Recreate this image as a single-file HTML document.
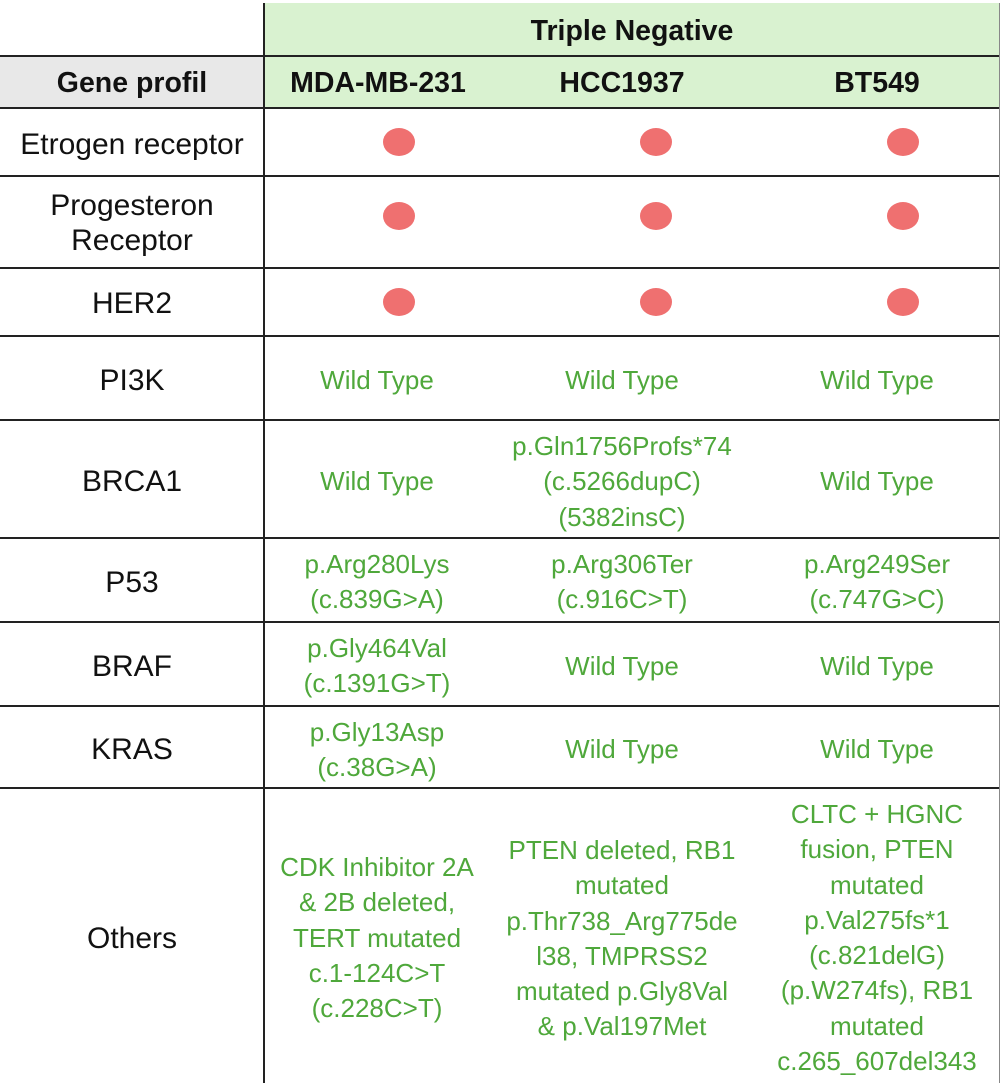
<!DOCTYPE html>
<html><head><meta charset="utf-8"><style>
body{margin:0;width:1000px;height:1090px;background:#fff;position:relative;overflow:hidden;font-family:"Liberation Sans",sans-serif}
.h{position:absolute;left:0;width:1000px;height:2px;background:#222}
.t{position:absolute;transform:translateX(-50%);text-align:center;white-space:nowrap;line-height:35.3px;margin-top:2px}
.k{color:#111;font-size:30px}
.g{color:#4fa83b;font-size:26px}
.b{font-weight:bold;font-size:28.5px;color:#111}
.d{position:absolute;width:32px;height:28px;border-radius:50%;background:#ef7070;transform:translate(-50%,-50%)}
</style></head><body>
<div style="position:absolute;left:264px;top:3px;width:736px;height:105px;background:#d9f2d0"></div>
<div style="position:absolute;left:0;top:56px;width:264px;height:52px;background:#e8e8e8"></div>
<div class="h" style="top:55px"></div>
<div class="h" style="top:107px"></div>
<div class="h" style="top:175px"></div>
<div class="h" style="top:267px"></div>
<div class="h" style="top:335px"></div>
<div class="h" style="top:419px"></div>
<div class="h" style="top:537px"></div>
<div class="h" style="top:621px"></div>
<div class="h" style="top:705px"></div>
<div class="h" style="top:787px"></div>
<div style="position:absolute;left:263px;top:3px;width:2px;height:1080px;background:#222"></div>
<div style="position:absolute;left:999px;top:3px;width:1px;height:1080px;background:#888"></div>

<div class="t b" style="left:632px;top:12px">Triple Negative</div>
<div class="t b" style="left:132px;top:64px">Gene profil</div>
<div class="t b" style="left:378px;top:64px">MDA-MB-231</div>
<div class="t b" style="left:622px;top:64px">HCC1937</div>
<div class="t b" style="left:877px;top:64px">BT549</div>

<div class="t k" style="left:132px;top:125px">Etrogen receptor</div>
<div class="t k" style="left:132px;top:186px">Progesteron<br>Receptor</div>
<div class="t k" style="left:132px;top:284px">HER2</div>
<div class="t k" style="left:132px;top:361px">PI3K</div>
<div class="t k" style="left:132px;top:462px">BRCA1</div>
<div class="t k" style="left:132px;top:563px">P53</div>
<div class="t k" style="left:132px;top:647px">BRAF</div>
<div class="t k" style="left:132px;top:730px">KRAS</div>
<div class="t k" style="left:132px;top:919px">Others</div>

<div class="d" style="left:399px;top:142px"></div><div class="d" style="left:656px;top:142px"></div><div class="d" style="left:903px;top:142px"></div>
<div class="d" style="left:399px;top:216px"></div><div class="d" style="left:656px;top:216px"></div><div class="d" style="left:903px;top:216px"></div>
<div class="d" style="left:399px;top:302px"></div><div class="d" style="left:656px;top:302px"></div><div class="d" style="left:903px;top:302px"></div>

<div class="t g" style="left:377px;top:361px">Wild Type</div>
<div class="t g" style="left:622px;top:361px">Wild Type</div>
<div class="t g" style="left:877px;top:361px">Wild Type</div>

<div class="t g" style="left:377px;top:462px">Wild Type</div>
<div class="t g" style="left:622px;top:427px">p.Gln1756Profs*74<br>(c.5266dupC)<br>(5382insC)</div>
<div class="t g" style="left:877px;top:462px">Wild Type</div>

<div class="t g" style="left:377px;top:545px">p.Arg280Lys<br>(c.839G&gt;A)</div>
<div class="t g" style="left:622px;top:545px">p.Arg306Ter<br>(c.916C&gt;T)</div>
<div class="t g" style="left:877px;top:545px">p.Arg249Ser<br>(c.747G&gt;C)</div>

<div class="t g" style="left:377px;top:629px">p.Gly464Val<br>(c.1391G&gt;T)</div>
<div class="t g" style="left:622px;top:647px">Wild Type</div>
<div class="t g" style="left:877px;top:647px">Wild Type</div>

<div class="t g" style="left:377px;top:713px">p.Gly13Asp<br>(c.38G&gt;A)</div>
<div class="t g" style="left:622px;top:730px">Wild Type</div>
<div class="t g" style="left:877px;top:730px">Wild Type</div>

<div class="t g" style="left:377px;top:848px">CDK Inhibitor 2A<br>&amp; 2B deleted,<br>TERT mutated<br>c.1-124C&gt;T<br>(c.228C&gt;T)</div>
<div class="t g" style="left:622px;top:831px">PTEN deleted, RB1<br>mutated<br>p.Thr738_Arg775de<br>l38, TMPRSS2<br>mutated p.Gly8Val<br>&amp; p.Val197Met</div>
<div class="t g" style="left:877px;top:795px">CLTC + HGNC<br>fusion, PTEN<br>mutated<br>p.Val275fs*1<br>(c.821delG)<br>(p.W274fs), RB1<br>mutated<br>c.265_607del343</div>
</body></html>
